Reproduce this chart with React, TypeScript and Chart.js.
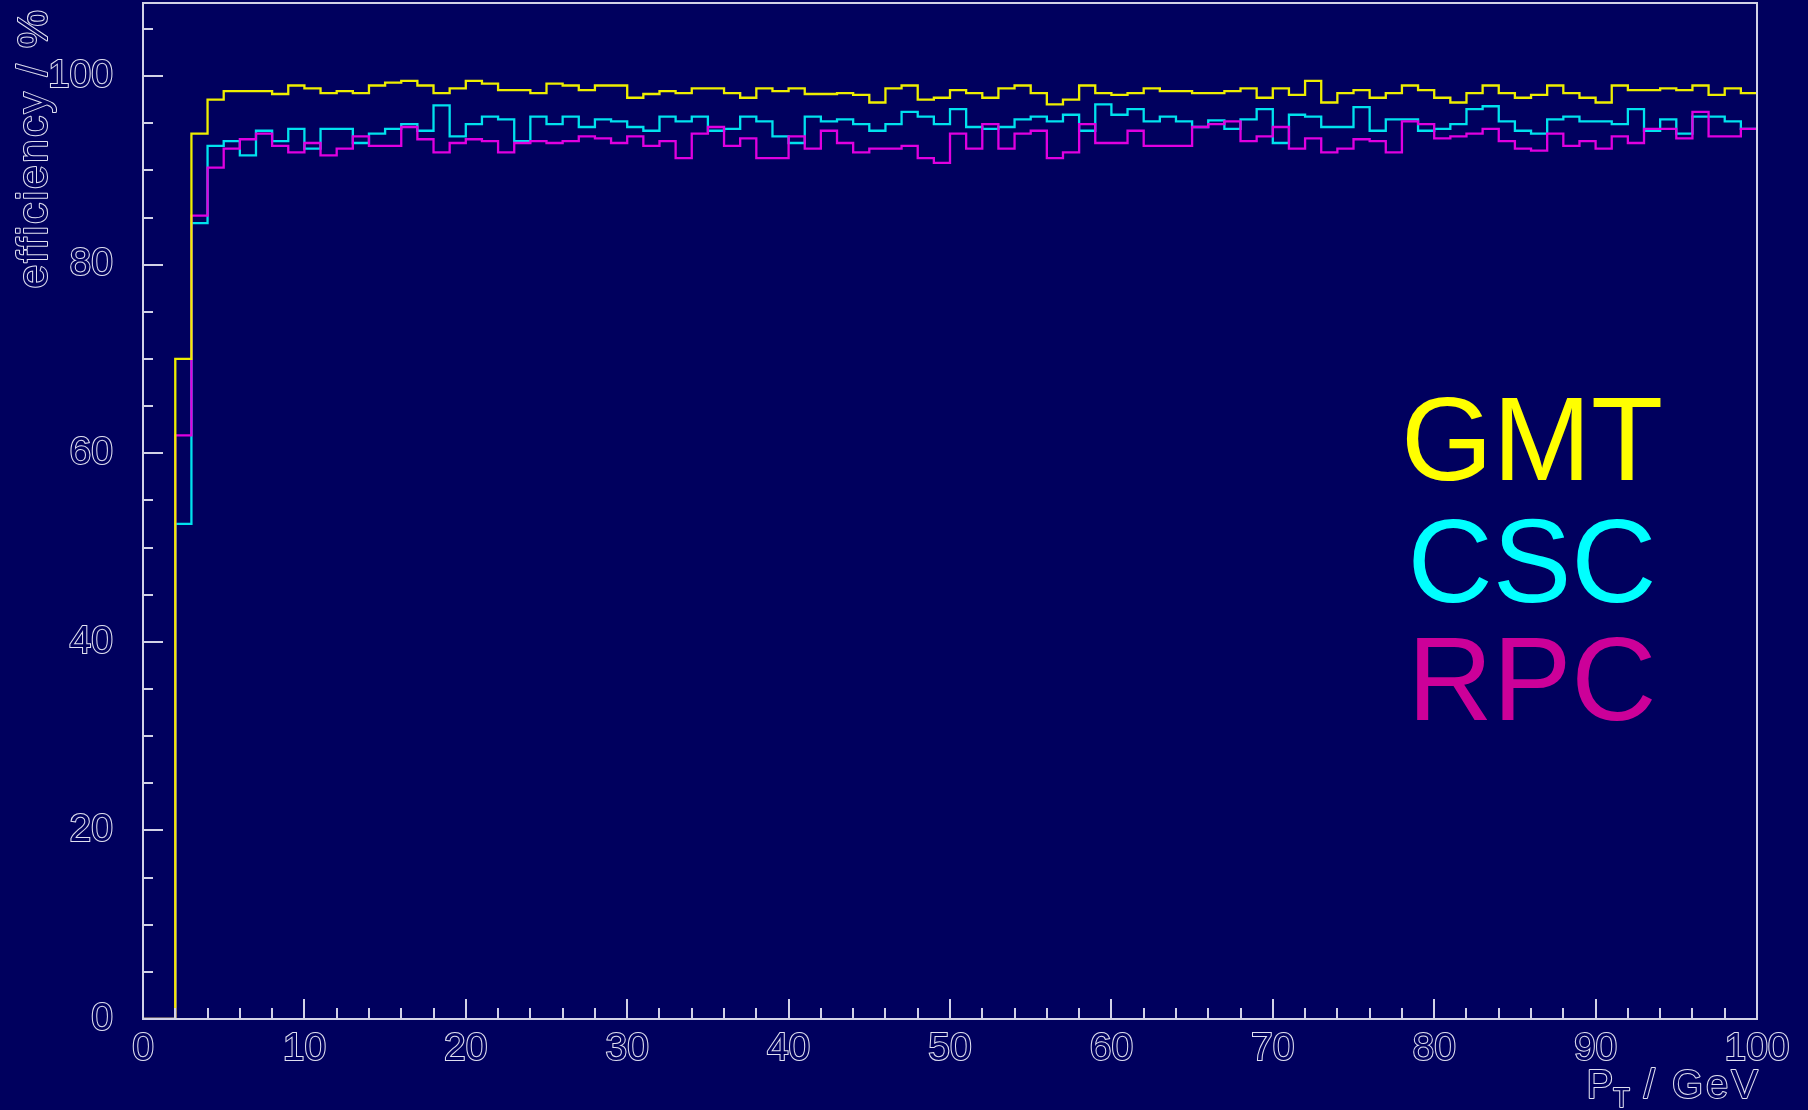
import React, { useEffect, useRef } from 'react';
import { Chart, registerables } from 'chart.js';

Chart.register(...registerables);

// ---- data (1 GeV bins, lower edges 0..99, upper edge 100) ----
const BIN_EDGES: number[] = Array.from({ length: 101 }, (_, i) => i);

const GMT: number[] = [
  0, 0, 70.0, 93.9, 97.5, 98.4, 98.4, 98.4, 98.1, 99.0,
  98.7, 98.2, 98.4, 98.2, 99.0, 99.3, 99.5, 99.0, 98.2, 98.7,
  99.5, 99.2, 98.5, 98.5, 98.2, 99.2, 99.0, 98.5, 99.0, 99.0,
  97.7, 98.1, 98.4, 98.2, 98.7, 98.7, 98.2, 97.7, 98.7, 98.4,
  98.7, 98.1, 98.1, 98.2, 98.0, 97.2, 98.7, 99.0, 97.5, 97.7,
  98.5, 98.2, 97.7, 98.7, 99.0, 98.2, 97.0, 97.5, 99.0, 98.2,
  98.0, 98.2, 98.7, 98.4, 98.4, 98.2, 98.2, 98.4, 98.7, 97.7,
  98.7, 98.0, 99.5, 97.2, 98.2, 98.5, 97.7, 98.2, 99.0, 98.5,
  97.7, 97.2, 98.2, 99.0, 98.2, 97.7, 98.0, 99.0, 98.2, 97.7,
  97.2, 99.0, 98.5, 98.5, 98.7, 98.5, 99.0, 98.0, 98.7, 98.2,
];

const CSC: number[] = [
  0, 0, 52.5, 84.4, 92.6, 93.1, 91.6, 94.2, 93.1, 94.4,
  92.3, 94.4, 94.4, 92.9, 93.9, 94.4, 94.9, 94.2, 96.9, 93.6,
  94.9, 95.7, 95.4, 93.1, 95.7, 94.9, 95.7, 94.6, 95.4, 95.2,
  94.6, 94.2, 95.7, 95.2, 95.7, 94.2, 94.4, 95.7, 95.2, 93.6,
  92.9, 95.7, 95.2, 95.4, 94.9, 94.2, 94.9, 96.2, 95.7, 94.9,
  96.5, 94.6, 94.4, 94.6, 95.4, 95.7, 95.2, 95.9, 94.2, 97.0,
  95.9, 96.5, 95.2, 95.7, 95.2, 94.6, 95.3, 94.4, 95.4, 96.5,
  92.9, 95.9, 95.7, 94.6, 94.6, 96.7, 94.2, 95.4, 95.4, 94.2,
  94.4, 94.9, 96.5, 96.8, 95.2, 94.2, 93.9, 95.4, 95.7, 95.2,
  95.2, 94.9, 96.5, 94.2, 95.4, 93.9, 95.7, 95.7, 95.2, 94.4,
];

const RPC: number[] = [
  0, 0, 61.9, 85.2, 90.3, 92.3, 93.3, 93.9, 92.6, 91.9,
  92.9, 91.6, 92.3, 93.6, 92.6, 92.6, 94.6, 93.3, 91.9, 92.9,
  93.3, 93.1, 91.9, 92.9, 93.1, 92.9, 93.1, 93.6, 93.4, 92.9,
  93.6, 92.6, 93.1, 91.3, 93.9, 94.6, 92.6, 93.4, 91.3, 91.3,
  93.6, 92.3, 94.2, 92.9, 91.9, 92.3, 92.3, 92.6, 91.3, 90.8,
  93.9, 92.3, 94.9, 92.3, 93.9, 94.2, 91.3, 91.9, 94.9, 92.9,
  92.9, 94.2, 92.6, 92.6, 92.6, 94.6, 94.9, 95.2, 93.1, 93.6,
  94.6, 92.3, 93.4, 91.9, 92.3, 93.3, 93.1, 91.9, 95.2, 94.9,
  93.4, 93.6, 93.9, 94.4, 93.1, 92.3, 92.1, 93.9, 92.6, 93.1,
  92.3, 93.6, 92.9, 94.4, 94.4, 93.4, 96.2, 93.6, 93.6, 94.4,
];

const SERIES_NAMES = ['GMT', 'CSC', 'RPC'];
const X_TITLE_MAIN = 'P';
const X_TITLE_SUB = 'T';
const X_TITLE_REST = ' / GeV';
const Y_TITLE = 'efficiency / %';

const Y_TICK_LABELS = [0, 20, 40, 60, 80, 100];
const X_TICK_LABELS = [0, 10, 20, 30, 40, 50, 60, 70, 80, 90, 100];
const Y_TICK_MARKS = [0, 5, 10, 15, 20, 25, 30, 35, 40, 45, 50, 55, 60, 65, 70, 75, 80, 85, 90, 95, 100, 105];
const X_TICK_MARKS = Array.from({ length: 51 }, (_, i) => i * 2);

// ---- style ----
const BG = '#00005e';
const FRAME = '#d2d2e6';
const LABEL = '#e0e0f0';
const FONT = "'Liberation Sans', Arial, Helvetica, sans-serif";
const LINE_COLORS = ['#eeee00', '#00e2ee', '#e000e0'];
const LEGEND_COLORS = ['#ffff00', '#00ffff', '#cc0099'];

function histPoints(values: number[]) {
  const pts = values.map((v, i) => ({ x: BIN_EDGES[i], y: v }));
  pts.push({ x: BIN_EDGES[values.length], y: values[values.length - 1] });
  return pts;
}

function outlinedText(ctx: CanvasRenderingContext2D, text: string, x: number, y: number) {
  ctx.lineJoin = 'round';
  ctx.lineWidth = 2.0;
  ctx.strokeStyle = LABEL;
  ctx.strokeText(text, x, y);
  ctx.fillStyle = BG;
  ctx.fillText(text, x, y);
}

const rootStyle = {
  id: 'rootStyle',
  beforeDraw(chart: any) {
    const { ctx, width, height } = chart;
    ctx.save();
    ctx.fillStyle = BG;
    ctx.fillRect(0, 0, width, height);
    ctx.restore();
  },
  afterDraw(chart: any) {
    const { ctx, chartArea: a, scales } = chart;
    const xs = scales.x;
    const ys = scales.y;
    ctx.save();
    // frame
    ctx.strokeStyle = FRAME;
    ctx.lineWidth = 2;
    ctx.strokeRect(a.left, a.top, a.right - a.left, a.bottom - a.top);
    // inner tick marks
    ctx.beginPath();
    for (const v of Y_TICK_MARKS) {
      const y = Math.round(ys.getPixelForValue(v));
      const len = v % 20 === 0 ? 20 : 10;
      ctx.moveTo(a.left, y);
      ctx.lineTo(a.left + len, y);
    }
    for (const v of X_TICK_MARKS) {
      const x = Math.round(xs.getPixelForValue(v));
      const len = v % 10 === 0 ? 20 : 11;
      ctx.moveTo(x, a.bottom);
      ctx.lineTo(x, a.bottom - len);
    }
    ctx.stroke();

    // x title with subscript
    ctx.textBaseline = 'alphabetic';
    ctx.textAlign = 'left';
    ctx.font = `40px ${FONT}`;
    const wP = ctx.measureText(X_TITLE_MAIN).width;
    (ctx as any).letterSpacing = '3px';
    const wRest = ctx.measureText(X_TITLE_REST).width;
    (ctx as any).letterSpacing = '0px';
    ctx.font = `27px ${FONT}`;
    const wT = ctx.measureText(X_TITLE_SUB).width;
    let x0 = a.right + 4 - (wP + wT + wRest);
    const base = a.bottom + 79;
    ctx.font = `40px ${FONT}`;
    outlinedText(ctx, X_TITLE_MAIN, x0, base);
    x0 += wP;
    ctx.font = `27px ${FONT}`;
    outlinedText(ctx, X_TITLE_SUB, x0, base + 9);
    x0 += wT;
    ctx.font = `40px ${FONT}`;
    (ctx as any).letterSpacing = '3px';
    outlinedText(ctx, X_TITLE_REST, x0, base);
    (ctx as any).letterSpacing = '0px';

    // y title (rotated)
    ctx.save();
    ctx.translate(47, 8);
    ctx.rotate(-Math.PI / 2);
    ctx.font = `43px ${FONT}`;
    (ctx as any).letterSpacing = '2px';
    ctx.textAlign = 'right';
    outlinedText(ctx, Y_TITLE, 0, 0);
    ctx.restore();

    // big coloured labels
    ctx.font = `118px ${FONT}`;
    ctx.textAlign = 'center';
    ctx.textBaseline = 'alphabetic';
    const baselines = [480, 602, 720];
    SERIES_NAMES.forEach((name, i) => {
      ctx.fillStyle = LEGEND_COLORS[i];
      ctx.fillText(name, 1532, baselines[i]);
    });
    ctx.restore();
  },
};

export default function App() {
  const ref = useRef<HTMLCanvasElement | null>(null);

  useEffect(() => {
    document.body.style.margin = '0';
    document.body.style.background = BG;
    const canvas = ref.current;
    if (!canvas) return;
    const seriesList = [GMT, CSC, RPC];
    const orders = [1, 3, 2];
    const chart = new Chart(canvas, {
      type: 'line',
      data: {
        datasets: seriesList.map((vals, i) => ({
          label: SERIES_NAMES[i],
          data: histPoints(vals),
          borderColor: LINE_COLORS[i],
          backgroundColor: LINE_COLORS[i],
          borderWidth: 2.3,
          pointRadius: 0,
          pointHoverRadius: 0,
          stepped: 'before' as const,
          fill: false,
          tension: 0,
          order: orders[i],
        })),
      },
      options: {
        animation: false,
        responsive: false,
        devicePixelRatio: 1,
        events: [],
        layout: { padding: { left: 0, top: 3, right: 51, bottom: 0 } },
        plugins: {
          legend: { display: false },
          tooltip: { enabled: false },
          title: { display: false },
        },
        scales: {
          x: {
            type: 'linear',
            min: 0,
            max: 100,
            grid: { display: false },
            border: { display: false },
            afterFit: (s: any) => {
              s.height = 91;
              s.paddingLeft = 0;
              s.paddingRight = 0;
            },
            afterBuildTicks: (s: any) => {
              s.ticks = X_TICK_LABELS.map((v) => ({ value: v }));
            },
            ticks: {
              autoSkip: false,
              maxRotation: 0,
              padding: 3,
              color: BG,
              textStrokeColor: LABEL,
              textStrokeWidth: 2.0,
              font: { family: FONT, size: 39, lineHeight: 1 },
              callback: (v: any) => String(v),
            },
          },
          y: {
            type: 'linear',
            min: 0,
            max: 107.75,
            grid: { display: false },
            border: { display: false },
            afterFit: (s: any) => {
              s.width = 143;
              s.paddingTop = 0;
              s.paddingBottom = 0;
            },
            afterBuildTicks: (s: any) => {
              s.ticks = Y_TICK_LABELS.map((v) => ({ value: v }));
            },
            ticks: {
              autoSkip: false,
              padding: 22,
              color: BG,
              textStrokeColor: LABEL,
              textStrokeWidth: 2.0,
              font: { family: FONT, size: 39, lineHeight: 1 },
              callback: (v: any) => String(v),
            },
          },
        },
      },
      plugins: [rootStyle],
    } as any);
    return () => chart.destroy();
  }, []);

  return (
    <div style={{ width: 1808, height: 1110, background: BG }}>
      <canvas ref={ref} width={1808} height={1110} style={{ display: 'block' }} />
    </div>
  );
}
